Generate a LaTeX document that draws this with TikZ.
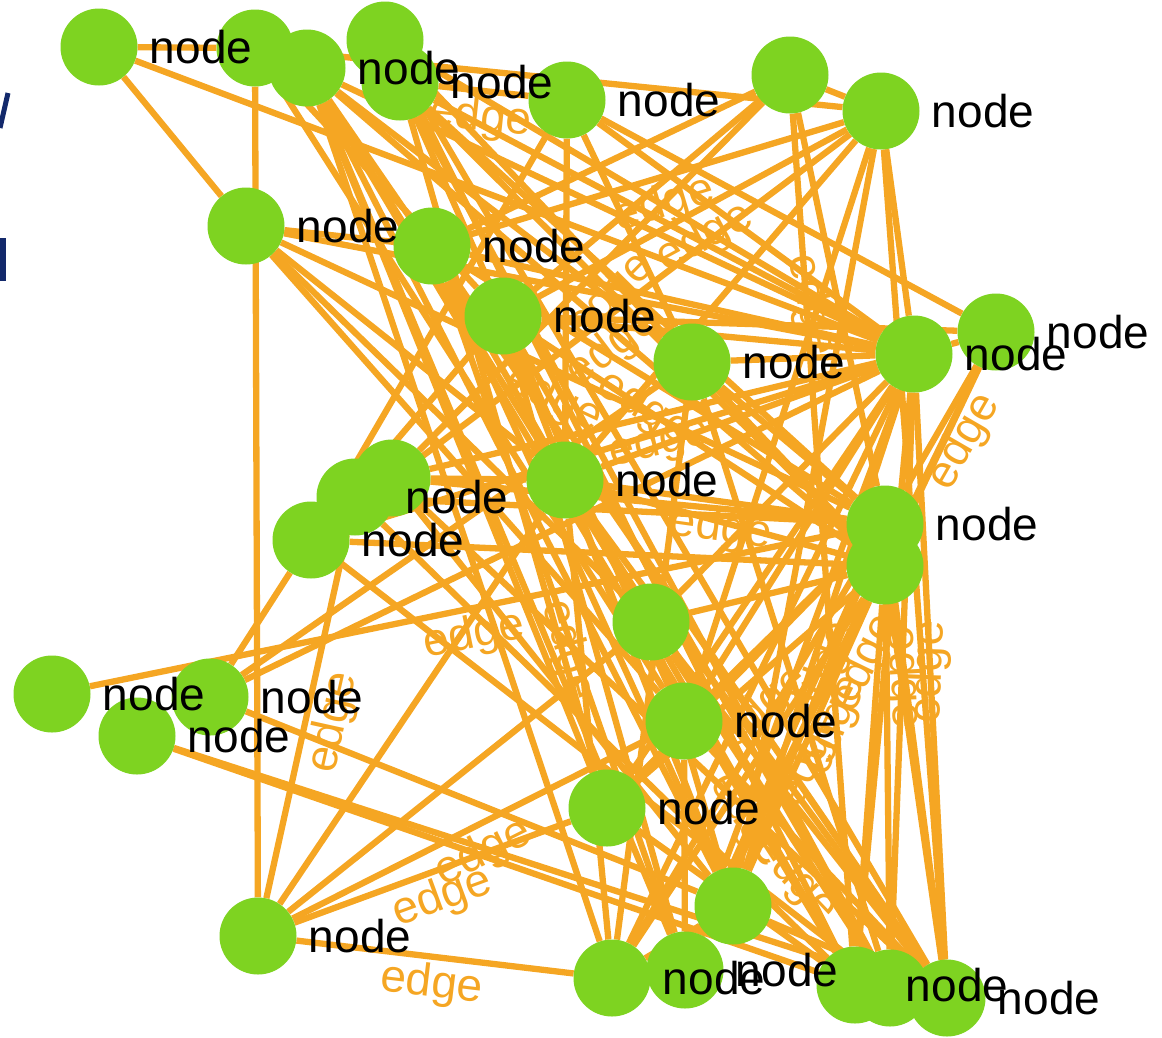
\documentclass[tikz,border=0pt]{standalone}
\usepackage{fontspec}
\setmainfont{Liberation Sans}
\pgfdeclarelayer{bg}
\pgfdeclarelayer{fg}
\pgfsetlayers{bg,main,fg}
\definecolor{eorange}{HTML}{F5A623}
\definecolor{ngreen}{HTML}{7ED321}
\definecolor{navyblue}{HTML}{13296B}
\begin{document}
\begin{tikzpicture}[x=1pt,y=-1pt,
  gnode/.style={circle,fill=ngreen,minimum size=77pt,inner sep=0pt},
  nlabel/.style={anchor=west,inner sep=0pt,xshift=12pt,font=\fontsize{46}{50}\selectfont,text=black},
  edgeline/.style={draw=eorange,line width=6.3pt},
  elabel/.style={midway,sloped,below,inner sep=3pt,font=\fontsize{46}{50}\selectfont,text=eorange}]
\useasboundingbox (0,0) rectangle (1162,1037);
% fragments at the left border
\draw[navyblue,line width=5pt] (0,128) -- (8,93);
\fill[navyblue] (0,238) rectangle (6,281);
% nodes
\node[gnode] (A) at (99,47) {};
\node[gnode] (B) at (255,48) {};
\node[gnode] (C) at (307,68) {};
\node[gnode] (D) at (385,40) {};
\node[gnode] (E) at (400,82) {};
\node[gnode] (F) at (567,100) {};
\node[gnode] (G) at (790,75) {};
\node[gnode] (H) at (881,111) {};
\node[gnode] (I) at (246,226) {};
\node[gnode] (J) at (432,246) {};
\node[gnode] (K) at (503,316) {};
\node[gnode] (L) at (692,362) {};
\node[gnode] (M) at (914,354) {};
\node[gnode] (N) at (996,332) {};
\node[gnode] (O1) at (392,478) {};
\node[gnode] (O2) at (355,497) {};
\node[gnode] (O3) at (311,540) {};
\node[gnode] (P) at (565,480) {};
\node[gnode] (Q) at (885,524) {};
\node[gnode] (R) at (885,566) {};
\node[gnode] (S) at (651,622) {};
\node[gnode] (T1) at (52,694) {};
\node[gnode] (T2) at (210,697) {};
\node[gnode] (T3) at (137,736) {};
\node[gnode] (U) at (684,721) {};
\node[gnode] (V) at (607,808) {};
\node[gnode] (W) at (733,906) {};
\node[gnode] (X) at (258,936) {};
\node[gnode] (Y) at (612,978) {};
\node[gnode] (Z) at (685,970) {};
\node[gnode] (AA) at (855,985) {};
\node[gnode] (AB) at (890,988) {};
\node[gnode] (AC) at (947,998) {};
% edges
\begin{pgfonlayer}{bg}
\foreach \s/\t in {A/B,A/I,A/M,B/X,B/H,G/H,I/J,I/M,I/P,I/U,I/S,
  H/M,H/P,H/U,H/W,H/AC,G/K,G/AA,
  F/O3,F/P,F/L,F/M,F/N,
  C/Z,C/Y,C/W,C/AA,C/AC,C/V,C/S,C/M,C/L,C/R,
  B/U,B/K,
  D/M,D/AC,D/AA,D/R,
  E/M,E/AB,E/R,E/Q,E/U,E/V,
  J/AC,J/AA,J/M,J/Z,J/G,J/W,
  K/M,K/W,K/AB,K/R,K/N,K/O3,
  L/M,L/Q,L/Y,L/T2,L/AB,
  M/N,M/P,M/S,M/U,M/V,M/W,M/Y,M/AA,M/O3,M/T2,
  N/R,
  O1/Q,O1/P,O1/AC,O1/W,O3/T2,O2/Q,O3/R,O3/AB,O2/AA,
  P/R,P/AC,P/X,P/AB,P/W,P/Y,
  Q/Y,Q/V,Q/AB,Q/U,Q/AC,
  R/AA,R/AC,R/Y,R/W,R/S,R/Z,
  S/AC,S/W,
  T3/AA,T3/AC,T2/W,
  U/Z,V/AA,W/AC,W/Y,X/S}
  \draw[edgeline] (\s) -- (\t);
\foreach \s/\t in {E/F,O2/X,X/Y,X/V,T1/Q,N/Q,K/Z,H/J,J/Q,O1/G,K/H,O1/M,
  P/Q,G/Q,M/Z,M/AB,M/AC,N/Z,Q/Z,I/Q,O3/H,S/AB,R/V,Q/W,X/U,U/AC}
  \draw[edgeline] (\s) -- (\t) node[elabel] {edge};
\end{pgfonlayer}
% node labels
\begin{pgfonlayer}{fg}
\foreach \n in {A,C,E,F,H,I,J,K,L,M,N,O2,O3,P,Q,T1,T2,T3,U,V,X,Y,Z,AA,AC}
  \node[nlabel] at (\n.east) {node};
\end{pgfonlayer}
\end{tikzpicture}
\end{document}
